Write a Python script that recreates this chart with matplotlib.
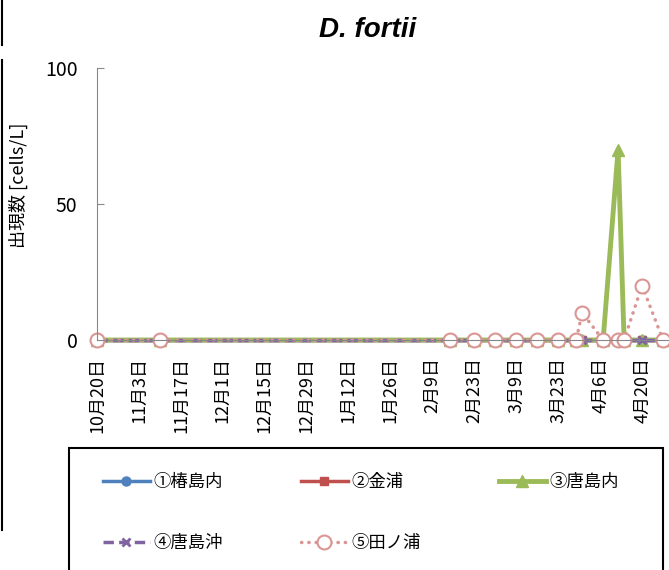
import matplotlib
matplotlib.use('Agg')
import matplotlib.pyplot as plt
from matplotlib.patches import Rectangle
from matplotlib.lines import Line2D
import pandas as pd

plt.rcParams['font.family'] = ['Noto Sans CJK JP', 'DejaVu Sans']

# sampling dates and counts [cells/L]
dates = ['2012-10-20', '2012-11-10', '2013-02-15', '2013-02-23', '2013-03-02',
         '2013-03-09', '2013-03-16', '2013-03-23', '2013-03-29', '2013-03-31',
         '2013-04-07', '2013-04-12', '2013-04-14', '2013-04-20', '2013-04-27']
tsubaki_uchi = [0, 0, 0, 0, 0, 0, 0, 0, 0, 0, 0, 0, 0, 0, 0]
kanaura = [0, 0, 0, 0, 0, 0, 0, 0, 0, 0, 0, 0, 0, 0, 0]
karashima_uchi = [0, 0, 0, 0, 0, 0, 0, 0, 0, 0, 0, 70, 0, 0, 0]
karashima_oki = [0, 0, 0, 0, 0, 0, 0, 0, 0, 0, 0, 0, 0, 0, 0]
tanoura = [0, 0, 0, 0, 0, 0, 0, 0, 0, 10, 0, 0, 0, 20, 0]

labels = ['①椿島内', '②金浦', '③唐島内', '④唐島沖', '⑤田ノ浦']
yticks = [0, 50, 100]

x = pd.to_datetime(dates)

fig = plt.figure(figsize=(6.69, 5.70), dpi=100)
ax = fig.add_axes([97 / 669, 1 - 340 / 570, 1 - 97 / 669, 272 / 570])

h1, = ax.plot(x, tsubaki_uchi, color='#4F81BD', lw=2.5, marker='o', ms=6.5, clip_on=False)
h2, = ax.plot(x, kanaura, color='#C0504D', lw=2.5, marker='s', ms=6, clip_on=False)
h3, = ax.plot(x, karashima_uchi, color='#9BBB59', lw=3.5, marker='^', ms=8, clip_on=False)
h4, = ax.plot(x, karashima_oki, color='#8064A2', lw=2.5, ls=(0, (3, 1.5)), marker='x',
              ms=6, mew=2, clip_on=False)
h5, = ax.plot(x, tanoura, color='#D99694', lw=2.5, ls=(0, (0.1, 2)), dash_capstyle='round',
              marker='o', ms=10, mfc='white', mew=1.5, clip_on=False)

ax.set_ylim(0, 100)
ax.set_yticks(yticks)
ax.set_xlim(pd.Timestamp('2012-10-20'), pd.Timestamp('2013-04-29'))
ticks = pd.date_range('2012-10-20', '2013-04-20', freq='14D')
ax.set_xticks(ticks)
ax.set_xticklabels(['{}月{}日'.format(d.month, d.day) for d in ticks], rotation=90)

for s in ['top', 'right']:
    ax.spines[s].set_visible(False)
for s in ['left', 'bottom']:
    ax.spines[s].set_color('#888888')
ax.tick_params(axis='y', direction='in', length=5, color='#888888', pad=14, labelsize=14)
ax.tick_params(axis='x', length=0, pad=12, labelsize=13)

ax.set_ylabel('出現数 [cells/L]', fontsize=13)
ax.yaxis.set_label_coords(-0.12, 0.57)

fig.text(368 / 669, 1 - 30 / 570, 'D. fortii', ha='center', va='center', fontsize=20,
         fontweight='bold', style='italic', family='Liberation Sans')

fig.legend(handles=[h1, h4, h2, h5, h3],
           labels=[labels[0], labels[3], labels[1], labels[4], labels[2]],
           ncol=3, loc='upper left', bbox_to_anchor=(103 / 669, 1 - 473 / 570),
           frameon=False, fontsize=12.5, handlelength=2.7, handletextpad=0.2,
           columnspacing=4.5, labelspacing=2.5, borderpad=0, borderaxespad=0)

fig.patches.append(Rectangle((69 / 669, -0.05), (663 - 69) / 669, 0.05 + 1 - 448 / 570,
                             transform=fig.transFigure, fill=False, edgecolor='black', lw=1.5))
fig.lines.append(Line2D([1.5 / 669, 1.5 / 669], [1, 1 - 45 / 570], transform=fig.transFigure,
                        color='black', lw=1.5))
fig.lines.append(Line2D([1.5 / 669, 1.5 / 669], [1 - 60 / 570, 1 - 530 / 570],
                        transform=fig.transFigure, color='black', lw=1.5))

fig.savefig('out.png', dpi=100)
